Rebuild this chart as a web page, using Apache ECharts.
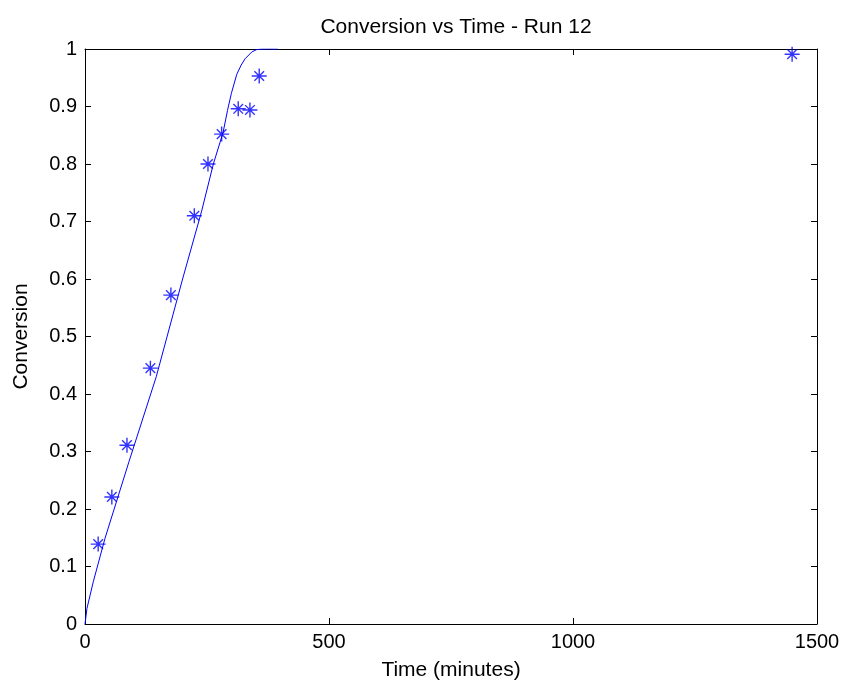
<!DOCTYPE html>
<html>
<head>
<meta charset="utf-8">
<script src="https://cdn.jsdelivr.net/npm/echarts@6/dist/echarts.min.js"></script>
<style>
html,body{margin:0;padding:0;background:#fff;}
#chart{width:844px;height:686px;}
</style>
</head>
<body>
<div id="chart"></div>
<script>
// Measured data points (stars)
const sampleTime = [27, 55, 86, 134, 176, 224, 252, 280, 314, 338, 357, 1449];
const sampleConv = [0.139, 0.221, 0.311, 0.445, 0.572, 0.710, 0.800, 0.852, 0.896, 0.894, 0.953, 0.991];

// Model curve (solid line)
const modelTime = [0, 4, 17, 41, 90, 146, 200, 239, 263, 283, 292, 300, 311, 320, 328, 342, 352, 362, 395];
const modelConv = [0, 0.027, 0.0735, 0.149, 0.282, 0.430, 0.600, 0.718, 0.800, 0.855, 0.893, 0.923, 0.956, 0.972, 0.983, 0.995, 0.999, 1.0, 1.0];

const xTicks = { min: 0, max: 1500, interval: 500 };
const yTicks = { min: 0, max: 1, interval: 0.1 };

const titleText = 'Conversion vs Time - Run 12';
const xName = 'Time (minutes)';
const yName = 'Conversion';

const FONT = 'Liberation Sans, Arial, sans-serif';
const BLUE = '#0000ff';

const chart = echarts.init(document.getElementById('chart'), null, { renderer: 'canvas' });

const axisCommon = {
  axisLine: { show: true, onZero: false, lineStyle: { color: '#000', width: 1 } },
  axisTick: { show: true, inside: true, length: 6, lineStyle: { color: '#000', width: 1 } },
  splitLine: { show: false },
};

const plainNum = v => String(Math.round(v * 1000) / 1000);

const option = {
  animation: false,
  backgroundColor: '#fff',
  title: {
    text: titleText,
    left: 451,
    top: 12,
    textAlign: 'center',
    textStyle: { fontFamily: FONT, fontSize: 21, fontWeight: 'normal', color: '#000' }
  },
  grid: { left: 85, right: 27, top: 49, bottom: 60, containLabel: false },
  xAxis: [
    Object.assign({
      type: 'value', position: 'bottom',
      min: xTicks.min, max: xTicks.max, interval: xTicks.interval,
      name: xName, nameLocation: 'middle', nameGap: 36,
      nameTextStyle: { fontFamily: FONT, fontSize: 21, color: '#000' },
      axisLabel: { fontFamily: FONT, fontSize: 20, color: '#000', margin: 8, formatter: plainNum }
    }, axisCommon),
    Object.assign({
      type: 'value', position: 'top',
      min: xTicks.min, max: xTicks.max, interval: xTicks.interval,
      axisLabel: { show: false }
    }, axisCommon)
  ],
  yAxis: [
    Object.assign({
      type: 'value', position: 'left',
      min: yTicks.min, max: yTicks.max, interval: yTicks.interval,
      name: yName, nameLocation: 'middle', nameGap: 53, nameRotate: 90,
      nameTextStyle: { fontFamily: FONT, fontSize: 21, color: '#000' },
      axisLabel: { fontFamily: FONT, fontSize: 20, color: '#000', margin: 8, formatter: plainNum }
    }, axisCommon),
    Object.assign({
      type: 'value', position: 'right',
      min: yTicks.min, max: yTicks.max, interval: yTicks.interval,
      axisLabel: { show: false }
    }, axisCommon)
  ],
  series: [
    {
      type: 'line',
      xAxisIndex: 0, yAxisIndex: 0,
      data: modelTime.map((t, i) => [t, modelConv[i]]),
      showSymbol: false,
      smooth: false,
      lineStyle: { color: BLUE, width: 1 },
      z: 2
    },
    {
      type: 'scatter',
      xAxisIndex: 0, yAxisIndex: 0,
      data: sampleTime.map((t, i) => [t, sampleConv[i]]),
      symbol: 'path://M0,7L14,7M7,0L7,14M2.5,2.5L11.5,11.5M11.5,2.5L2.5,11.5',
      symbolSize: 15,
      itemStyle: { color: 'none', borderColor: BLUE, borderWidth: 1.4 },
      z: 3
    }
  ]
};

chart.setOption(option);
</script>
</body>
</html>
